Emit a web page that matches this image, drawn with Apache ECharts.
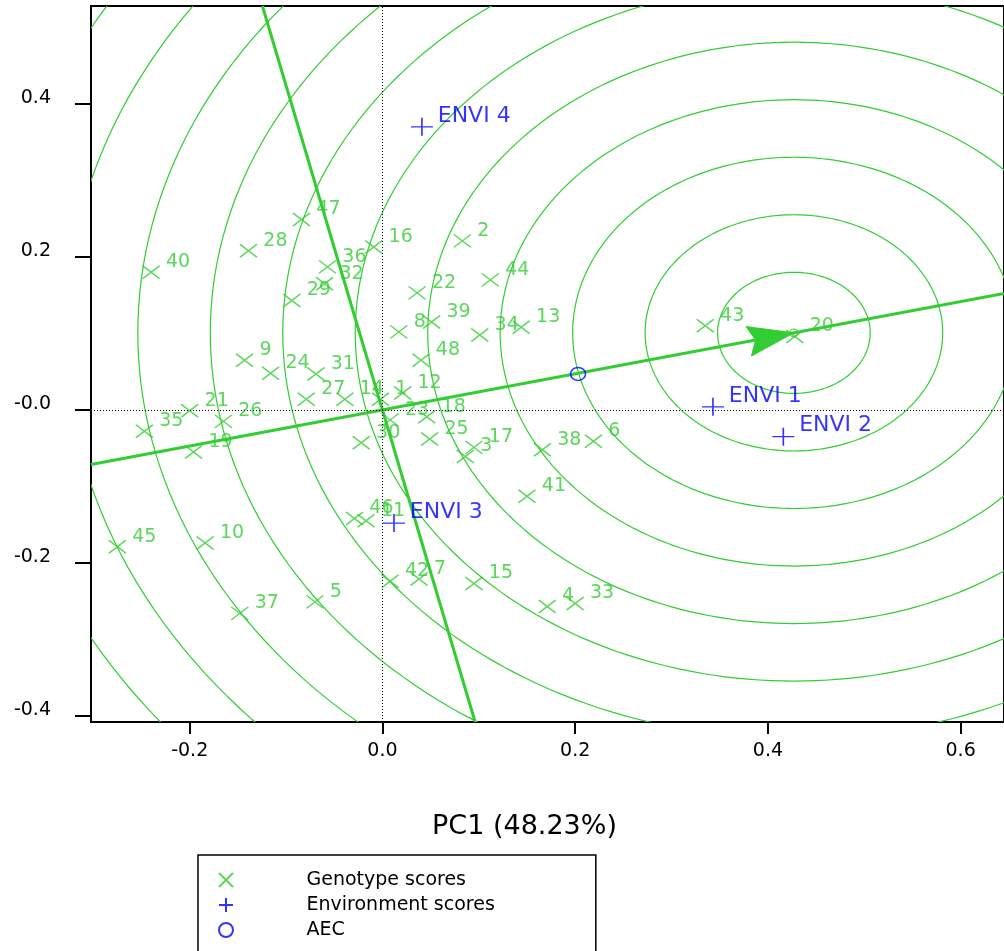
<!DOCTYPE html>
<html>
<head>
<meta charset="utf-8">
<title>GGE biplot – ranking genotypes</title>
<script src="https://cdn.jsdelivr.net/npm/echarts@6/dist/echarts.min.js"></script>
<style>
  html, body { margin: 0; padding: 0; background: #fff; }
  #chart { width: 1004px; height: 951px; }
</style>
</head>
<body>
<div id="chart"></div>
<script>
// Genotype scores (PC1, PC2)
const genotypeNames = ['1','2','3','4','5','6','7','8','9','10','11','12','13','14','15','16',
  '17','18','19','20','21','22','23','24','25','26','27','28','29','30','31','32',
  '33','34','35','36','37','38','39','40','41','42','43','44','45','46','47','48'];
const genotypePC1 = [-0.002, 0.083, 0.086, 0.171, -0.070, 0.219, 0.038, 0.017, -0.143, -0.184, -0.017, 0.021,
  0.144, -0.039, 0.095, -0.009, 0.095, 0.046, -0.196, 0.428, -0.200, 0.036, 0.008, -0.116,
  0.049, -0.165, -0.079, -0.139, -0.094, -0.022, -0.069, -0.060, 0.200, 0.101, -0.247, -0.057,
  -0.148, 0.166, 0.051, -0.240, 0.150, 0.008, 0.335, 0.112, -0.275, -0.029, -0.084, 0.040];
const genotypePC2 = [0.014, 0.221, -0.061, -0.257, -0.251, -0.041, -0.221, 0.102, 0.065, -0.174, -0.145, 0.022,
  0.108, 0.014, -0.227, 0.213, -0.049, -0.009, -0.055, 0.096, -0.001, 0.153, -0.013, 0.048,
  -0.038, -0.015, 0.014, 0.208, 0.143, -0.043, 0.047, 0.165, -0.253, 0.098, -0.028, 0.187,
  -0.266, -0.052, 0.115, 0.180, -0.113, -0.224, 0.110, 0.170, -0.179, -0.142, 0.249, 0.065];

// Environment scores
const envNames = ['ENVI 1', 'ENVI 2', 'ENVI 3', 'ENVI 4'];
const envPC1 = [0.343, 0.416, 0.012, 0.041];
const envPC2 = [0.004, -0.035, -0.148, 0.370];

// Average environment coordinate and the ideal genotype on the AEC axis
const aecPoint = [0.203, 0.047];
const idealPoint = [0.427, 0.1007];

// Concentric distance rings around the ideal genotype
const ringRadii = [0.0792, 0.1544, 0.2296, 0.3048, 0.38, 0.4552, 0.5304, 0.6056, 0.6808, 0.756, 0.8312, 0.9064, 0.9816];

// Axis ticks and labels
const xTicks = [-0.2, 0, 0.2, 0.4, 0.6];
const xTickLabels = ['-0.2', '0.0', '0.2', '0.4', '0.6'];
const yTicks = [-0.4, -0.2, 0, 0.2, 0.4];
const yTickLabels = ['-0.4', '-0.2', '-0.0', '0.2', '0.4'];

const X_MIN = -0.3024, X_MAX = 0.645;
const Y_MIN = -0.408, Y_MAX = 0.528;

const GREEN = '#32cd32';
const BLUE = '#0000ff';
const FONT = 'DejaVu Sans';

// AEC abscissa passes through the origin and the ideal genotype; the ordinate is perpendicular
const slope = idealPoint[1] / idealPoint[0];
const abscissa = [[X_MIN, X_MIN * slope], [X_MAX, X_MAX * slope]];
const ordinate = [[-slope * Y_MAX, Y_MAX], [-slope * Y_MIN, Y_MIN]];

function tickLabel(values, labels) {
  return function (v) {
    const i = values.findIndex(t => Math.abs(t - v) < 1e-9);
    return i >= 0 ? labels[i] : '';
  };
}

const chart = echarts.init(document.getElementById('chart'));

chart.setOption({
  animation: false,
  textStyle: { fontFamily: FONT },
  grid: {
    left: 91, right: -6, top: 6, bottom: 229,
    show: true, borderColor: '#000', borderWidth: 2, backgroundColor: 'transparent'
  },
  xAxis: {
    type: 'value', min: X_MIN, max: X_MAX,
    name: 'PC1 (48.23%)', nameLocation: 'middle', nameGap: 91,
    nameTextStyle: { fontFamily: FONT, fontSize: 27, color: '#000', padding: [0, 46, 0, 0] },
    axisLine: { show: true, onZero: false, lineStyle: { color: '#000', width: 2 } },
    axisTick: { show: true, length: 12, customValues: xTicks, lineStyle: { color: '#000', width: 2 } },
    axisLabel: { customValues: xTicks, formatter: tickLabel(xTicks, xTickLabels),
      margin: 20, fontSize: 19, color: '#000', fontFamily: FONT },
    splitLine: { show: false }
  },
  yAxis: {
    type: 'value', min: Y_MIN, max: Y_MAX,
    axisLine: { show: true, onZero: false, lineStyle: { color: '#000', width: 2 } },
    axisTick: { show: true, length: 16, customValues: yTicks, lineStyle: { color: '#000', width: 2 } },
    axisLabel: { customValues: yTicks, formatter: tickLabel(yTicks, yTickLabels),
      margin: 40, fontSize: 19, color: '#000', fontFamily: FONT,
      verticalAlign: 'bottom', lineHeight: 12 },
    splitLine: { show: false }
  },
  legend: {
    orient: 'vertical', left: 198, top: 855, height: 160,
    padding: [15, 101, 14, 20],
    borderColor: '#000', borderWidth: 1.5,
    itemWidth: 17, itemHeight: 14, itemGap: 5,
    selectedMode: false,
    data: ['Genotype scores', 'Environment scores', 'AEC'],
    textStyle: { fontFamily: FONT, fontSize: 19, color: '#000', lineHeight: 20, padding: [0, 0, 0, 67] }
  },
  series: [
    {
      // distance rings
      type: 'custom',
      name: 'rings',
      silent: true,
      z: 1,
      data: ringRadii.map(r => [idealPoint[0], idealPoint[1], r]),
      renderItem: function (params, api) {
        const cx = api.value(0), cy = api.value(1), r = api.value(2);
        const pts = [];
        for (let i = 0; i <= 240; i++) {
          const t = (i / 240) * Math.PI * 2;
          pts.push(api.coord([cx + r * Math.cos(t), cy + r * Math.sin(t)]));
        }
        const cs = params.coordSys;
        return {
          type: 'polyline',
          shape: { points: pts },
          style: { stroke: GREEN, lineWidth: 1.2, fill: null },
          clipPath: { type: 'rect', shape: { x: cs.x, y: cs.y, width: cs.width, height: cs.height } }
        };
      }
    },
    {
      type: 'line', name: 'AEC abscissa', silent: true, z: 2,
      data: abscissa, showSymbol: false,
      lineStyle: { color: GREEN, width: 3 }
    },
    {
      type: 'line', name: 'AEC ordinate', silent: true, z: 2,
      data: ordinate, showSymbol: false,
      lineStyle: { color: GREEN, width: 3 }
    },
    {
      // arrow pointing to the ideal genotype
      type: 'custom',
      name: 'ideal',
      silent: true,
      z: 3,
      data: [idealPoint],
      renderItem: function (params, api) {
        const tip = api.coord([api.value(0), api.value(1)]);
        const org = api.coord([0, 0]);
        let ux = tip[0] - org[0], uy = tip[1] - org[1];
        const len = Math.hypot(ux, uy);
        ux /= len; uy /= len;
        const nx = -uy, ny = ux;
        const L = 46, W = 15, notch = 7;
        const back = [tip[0] - L * ux, tip[1] - L * uy];
        return {
          type: 'group',
          children: [
            {
              type: 'polygon',
              shape: { points: [
                tip,
                [back[0] + W * nx, back[1] + W * ny],
                [tip[0] - (L - notch) * ux, tip[1] - (L - notch) * uy],
                [back[0] - W * nx, back[1] - W * ny]
              ] },
              style: { fill: GREEN, stroke: GREEN, lineWidth: 1 }
            },
            {
              type: 'circle',
              shape: { cx: tip[0], cy: tip[1], r: 4 },
              style: { fill: null, stroke: GREEN, lineWidth: 1 }
            }
          ]
        };
      }
    },
    {
      type: 'scatter',
      name: 'Genotype scores',
      z: 4,
      data: genotypeNames.map((n, i) => ({ name: n, value: [genotypePC1[i], genotypePC2[i]] })),
      symbol: 'path://M0,0L10,10M10,0L0,10',
      symbolSize: [17, 13],
      itemStyle: { color: 'rgba(0,0,0,0)', borderColor: GREEN, borderWidth: 1.5 },
      label: {
        show: true, position: 'right', distance: 5.5, offset: [0, -10],
        formatter: '{b}', color: GREEN, fontFamily: FONT, fontSize: 19
      },
      emphasis: { disabled: true },
      markLine: {
        silent: true, symbol: 'none',
        label: { show: false },
        lineStyle: { color: '#000', width: 1, type: [1, 2] },
        data: [{ xAxis: 0 }, { yAxis: 0 }]
      }
    },
    {
      type: 'scatter',
      name: 'Environment scores',
      z: 5,
      data: envNames.map((n, i) => ({ name: n, value: [envPC1[i], envPC2[i]] })),
      symbol: 'path://M0,5L10,5M5,0L5,10',
      symbolSize: [22, 18],
      itemStyle: { color: 'rgba(0,0,0,0)', borderColor: BLUE, borderWidth: 1.5 },
      label: {
        show: true, position: 'right', distance: 4, offset: [0, -11],
        formatter: '{b}', color: BLUE, fontFamily: FONT, fontSize: 22
      },
      emphasis: { disabled: true }
    },
    {
      type: 'scatter',
      name: 'AEC',
      z: 5,
      data: [aecPoint],
      symbol: 'circle',
      symbolSize: [15, 13],
      itemStyle: { color: 'rgba(0,0,0,0)', borderColor: BLUE, borderWidth: 1.5 },
      emphasis: { disabled: true }
    }
  ]
});
</script>
</body>
</html>
